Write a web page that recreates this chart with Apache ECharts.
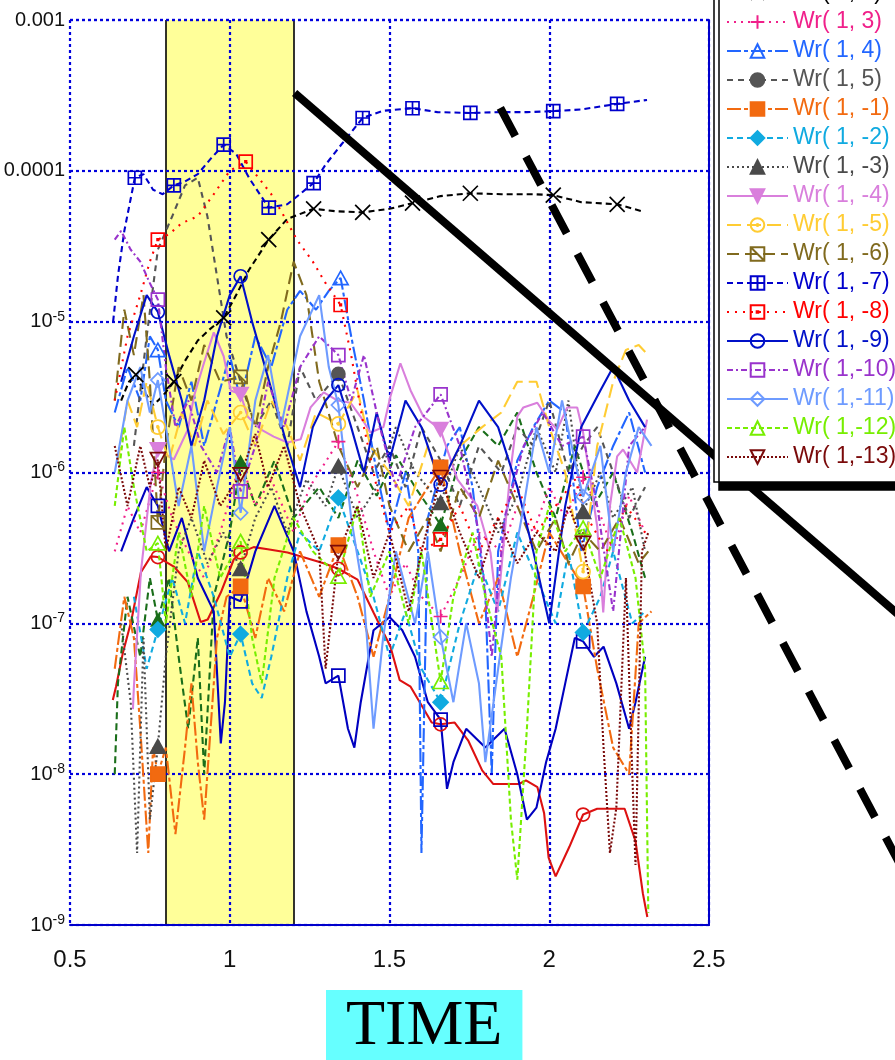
<!DOCTYPE html>
<html><head><meta charset="utf-8">
<script src="https://cdn.jsdelivr.net/npm/echarts@6/dist/echarts.min.js"></script>
<style>html,body{margin:0;padding:0;background:#fff}#c{width:895px;height:1060px}</style>
</head><body><div id="c"></div>
<script>
// ---- axis ticks ----
const xTicks = [0.5, 1, 1.5, 2, 2.5];
const yTickText = ['10|-9', '10|-8', '10|-7', '10|-6', '10|-5', '0.0001', '0.001'];
const bandX = [0.8, 1.2];

// ---- series values [x, y]; marker indices ----
const wr12 = [[0.66,3.0e-6],[0.68,3.8e-6],[0.706,4.45e-6],[0.73,3.5e-6],[0.76,2.8e-6],[0.79,3.2e-6],[0.825,4.0e-6],[0.86,5.5e-6],[0.9,7.5e-6],[0.94,9.0e-6],[0.981,1.06e-5],[1.02,1.5e-5],[1.06,2.2e-5],[1.122,3.5e-5],[1.18,4.8e-5],[1.2625,5.6e-5],[1.33,5.4e-5],[1.416,5.3e-5],[1.5,5.6e-5],[1.572,6.1e-5],[1.66,6.8e-5],[1.753,7.1e-5],[1.85,7.0e-5],[1.95,7.0e-5],[2.0125,6.9e-5],[2.1,6.2e-5],[2.2125,6.0e-5],[2.29,5.4e-5]];
const mk12 = [2,6,10,13,15,17,19,21,24,26];
const wr13 = [[0.64,3e-7],[0.68,6e-7],[0.72,4e-7],[0.775,1.0e-6],[0.82,5e-7],[0.87,3e-7],[0.92,2e-7],[0.97,4e-7],[1.034,1.2e-6],[1.08,6e-7],[1.13,9e-7],[1.2,4e-7],[1.25,8e-7],[1.34,1.6e-6],[1.4,7e-7],[1.45,3e-7],[1.5,1.5e-7],[1.55,2.5e-7],[1.6,1.5e-7],[1.66,1.11e-7],[1.72,2e-7],[1.78,4e-7],[1.85,3e-7],[1.9,6e-7],[1.95,4e-7],[2.0,8e-7],[2.05,5e-7],[2.106,9.3e-7],[2.15,6e-7],[2.2,3e-7],[2.25,7e-7],[2.3,4e-7]];
const mk13 = [3,13,19,27];
const wr14 = [[0.64,2.5e-6],[0.68,5e-6],[0.72,3e-6],[0.75,8e-6],[0.775,6.5e-6],[0.8,3e-6],[0.84,2e-6],[0.88,4e-6],[0.92,1.5e-6],[0.96,3e-6],[1.0,6e-6],[1.034,3e-6],[1.08,8e-6],[1.13,5e-6],[1.18,1.2e-5],[1.22,1.6e-5],[1.27,1.2e-5],[1.31,1.6e-5],[1.347,1.95e-5],[1.38,8e-6],[1.42,3e-6],[1.46,1e-6],[1.5,4e-7],[1.55,1e-6],[1.59,3e-7],[1.6,3e-9],[1.62,5e-7],[1.68,1.5e-6],[1.72,2e-6],[1.76,8e-7],[1.8,1.5e-7],[1.82,1e-8],[1.84,3e-7],[1.9,1.2e-6],[1.95,2e-6],[2.0,3e-6],[2.05,2.5e-6],[2.1,3e-7],[2.15,8e-7],[2.2,1.5e-6],[2.25,2.5e-6],[2.3,1e-6]];
const mk14 = [4,18];
const wr15 = [[0.7,1.5e-6],[0.74,8e-6],[0.775,3e-5],[0.82,5e-5],[0.86,8e-5],[0.9,9e-5],[0.93,5e-5],[0.96,2e-5],[0.99,8e-6],[1.034,4e-6],[1.08,2e-6],[1.13,3e-6],[1.18,1.5e-6],[1.22,5e-6],[1.27,3e-6],[1.34,4.5e-6],[1.4,2e-6],[1.45,1e-6],[1.5,1.5e-6],[1.55,8e-7],[1.6,2e-6],[1.66,1.2e-6],[1.72,6e-7],[1.78,1.5e-6],[1.85,1e-6],[1.9,2e-6],[1.95,1.5e-6],[2.0,3e-6],[2.06,1e-6],[2.106,1.5e-6],[2.15,2e-6],[2.2,1e-6],[2.25,5e-7],[2.3,8e-7]];
const mk15 = [15];
const wr1m1 = [[0.64,5e-8],[0.67,1.5e-7],[0.7,8e-8],[0.72,2e-8],[0.745,3e-9],[0.76,1.5e-8],[0.775,1e-8],[0.8,1.5e-8],[0.83,4e-9],[0.86,1.5e-8],[0.88,4e-8],[0.9,1.2e-8],[0.92,5e-9],[0.94,2e-8],[0.96,8e-8],[0.99,1.5e-7],[1.034,1.76e-7],[1.08,8e-8],[1.12,2e-7],[1.17,1.2e-7],[1.22,3e-7],[1.28,1.5e-7],[1.34,3.3e-7],[1.4,1.5e-7],[1.45,6e-8],[1.5,1.5e-7],[1.56,5e-7],[1.62,8e-7],[1.66,1.08e-6],[1.72,3e-7],[1.78,1e-7],[1.84,2e-7],[1.9,6e-8],[1.95,1.5e-7],[2.0,4e-7],[2.06,2.5e-7],[2.106,1.76e-7],[2.15,5e-8],[2.2,1.5e-8],[2.25,1e-8],[2.28,1e-7],[2.32,1.2e-7]];
const mk1m1 = [6,16,22,28,36];
const wr1m2 = [[0.7,1.5e-7],[0.74,5e-8],[0.775,9.1e-8],[0.82,2e-7],[0.86,1e-7],[0.9,3e-7],[0.95,1.5e-7],[1.0,6e-8],[1.034,8.5e-8],[1.07,4e-8],[1.1,3.2e-8],[1.13,6e-8],[1.18,2e-7],[1.22,4e-7],[1.28,3e-7],[1.34,6.8e-7],[1.4,3e-7],[1.45,1.5e-7],[1.5,6e-8],[1.55,1.2e-7],[1.6,5e-8],[1.66,3e-8],[1.72,1e-7],[1.78,2.5e-7],[1.84,1.2e-7],[1.9,4e-7],[1.96,2e-7],[2.02,1e-7],[2.06,3e-7],[2.106,8.7e-8],[2.16,1.5e-7],[2.2,3e-7],[2.26,1e-7],[2.3,1.2e-7]];
const mk1m2 = [2,8,15,21,29];
const wr1m3 = [[0.66,1e-7],[0.69,3e-8],[0.71,3e-9],[0.73,8e-8],[0.75,5e-9],[0.775,1.53e-8],[0.8,6e-8],[0.84,3e-7],[0.88,5e-7],[0.93,2.5e-7],[0.98,4e-7],[1.034,2.3e-7],[1.08,5e-7],[1.13,8e-7],[1.18,4e-7],[1.24,9e-7],[1.3,6e-7],[1.34,1.1e-6],[1.4,5e-7],[1.46,8e-7],[1.52,2e-6],[1.58,1e-6],[1.66,6.3e-7],[1.72,1.5e-6],[1.78,8e-7],[1.84,4e-7],[1.9,7e-7],[1.96,2e-6],[2.02,1e-6],[2.06,3e-6],[2.106,5.5e-7],[2.16,1e-6],[2.2,5e-7],[2.26,8e-7],[2.3,3e-7]];
const mk1m3 = [5,11,17,22,30];
const wr1m4 = [[0.697,2.7e-8],[0.7,3.8e-8],[0.722,2.2e-7],[0.753,8.6e-7],[0.775,1.42e-6],[0.825,1.22e-6],[0.869,1.93e-6],[0.888,3.2e-6],[0.919,5.3e-6],[0.95,8.5e-6],[0.981,5.9e-6],[1.003,3.5e-6],[1.034,3.3e-6],[1.056,2.35e-6],[1.097,1.93e-6],[1.1375,1.73e-6],[1.181,1.58e-6],[1.222,1.66e-6],[1.253,2.7e-6],[1.294,3.4e-6],[1.3375,3.0e-6],[1.378,2.9e-6],[1.409,2.35e-6],[1.44,1.84e-6],[1.481,2.0e-6],[1.503,3.2e-6],[1.534,5.3e-6],[1.566,3.5e-6],[1.606,2.35e-6],[1.659,1.93e-6],[1.7125,9e-7],[1.775,6e-7],[1.816,2.95e-7],[1.8375,1.18e-7],[1.878,1.0e-6],[1.9,2.35e-6],[1.919,2.7e-6],[1.9625,2.9e-6],[2.003,2.15e-6],[2.025,1.93e-6],[2.056,2.7e-6],[2.0875,2.7e-6],[2.106,1.84e-6],[2.15,4.4e-7],[2.169,1.18e-7],[2.19,6e-7],[2.2125,1.28e-6],[2.231,1.42e-6],[2.275,1.0e-6],[2.306,2.24e-6]];
const mk1m4 = [4,12,29];
const wr1m5 = [[0.65,1.2e-6],[0.68,3e-6],[0.71,2e-6],[0.74,4e-6],[0.775,2.0e-6],[0.81,1.2e-6],[0.85,2.5e-6],[0.89,1.5e-6],[0.93,3e-6],[0.98,1.8e-6],[1.034,2.5e-6],[1.08,1.5e-6],[1.13,3e-6],[1.18,2e-6],[1.22,1.2e-6],[1.27,2.5e-6],[1.34,2.1e-6],[1.4,3.5e-6],[1.44,1.5e-6],[1.5,1e-6],[1.56,6e-7],[1.62,1.5e-6],[1.66,8e-7],[1.72,1.5e-6],[1.79,2e-6],[1.85,2.5e-6],[1.9,4e-6],[1.96,4e-6],[2.0,2e-6],[2.05,1e-6],[2.106,2.2e-7],[2.15,1.5e-6],[2.2,4e-6],[2.24,6.5e-6],[2.28,7e-6],[2.31,6e-6]];
const mk1m5 = [4,10,16,30];
const wr1m6 = [[0.64,3e-6],[0.67,1.2e-5],[0.7,6e-6],[0.73,1.5e-5],[0.75,4e-6],[0.775,4.67e-7],[0.8,1.5e-6],[0.84,5e-6],[0.88,3e-6],[0.92,7e-6],[0.97,4e-6],[1.034,4.3e-6],[1.08,2e-6],[1.12,5e-6],[1.16,1e-5],[1.2,2.5e-5],[1.24,1.5e-5],[1.28,4e-6],[1.34,1.5e-6],[1.4,8e-7],[1.46,1.5e-6],[1.5,6e-7],[1.56,3e-7],[1.62,5e-7],[1.66,3e-7],[1.72,8e-7],[1.78,5e-7],[1.84,1.2e-6],[1.9,6e-7],[1.96,3e-7],[2.02,5e-7],[2.06,2.5e-7],[2.106,4e-7],[2.16,3e-7],[2.22,5e-7],[2.28,2.5e-7],[2.31,3e-7]];
const mk1m6 = [5,11];
const wr1m7 = [[0.635,1.0e-5],[0.65,2.0e-5],[0.67,4.0e-5],[0.703,9.0e-5],[0.73,9.5e-5],[0.76,7.5e-5],[0.79,7.0e-5],[0.825,8.0e-5],[0.86,8.5e-5],[0.9,9.5e-5],[0.94,1.2e-4],[0.981,1.49e-4],[1.02,1.3e-4],[1.06,9.0e-5],[1.122,5.7e-5],[1.18,6.0e-5],[1.2625,8.3e-5],[1.3,1.1e-4],[1.35,1.5e-4],[1.416,2.24e-4],[1.48,2.5e-4],[1.572,2.6e-4],[1.65,2.45e-4],[1.753,2.42e-4],[1.85,2.45e-4],[1.93,2.45e-4],[2.0125,2.49e-4],[2.1,2.55e-4],[2.2125,2.78e-4],[2.306,2.95e-4]];
const mk1m7 = [3,7,11,14,16,19,21,23,26,28];
const wr1m8 = [[0.64,3e-6],[0.68,8e-6],[0.72,1.5e-5],[0.75,2.5e-5],[0.775,3.5e-5],[0.81,3.8e-5],[0.85,4.5e-5],[0.9,5e-5],[0.95,7e-5],[1.0,1e-4],[1.05,1.15e-4],[1.09,9e-5],[1.13,7e-5],[1.17,5e-5],[1.21,3.5e-5],[1.26,2.5e-5],[1.3,1.8e-5],[1.347,1.29e-5],[1.38,6e-6],[1.42,2e-6],[1.46,8e-7],[1.5,4e-7],[1.56,6e-7],[1.6,3e-7],[1.66,3.6e-7],[1.72,6e-7],[1.78,3e-7],[1.84,5e-7],[1.9,8e-7],[1.96,4e-7],[2.02,6e-7],[2.08,9e-7],[2.12,5e-7],[2.18,3e-7],[2.24,6e-7],[2.3,4e-7]];
const mk1m8 = [4,10,17,24];
const wr1m9 = [[0.66,4e-6],[0.7,8e-6],[0.74,1.5e-5],[0.775,1.16e-5],[0.81,6e-6],[0.85,3e-6],[0.88,1.5e-6],[0.92,3e-6],[0.96,8e-6],[1.0,1.5e-5],[1.034,2.0e-5],[1.07,1e-5],[1.1,6e-6],[1.14,3e-6],[1.18,1.5e-6],[1.22,8e-7],[1.26,2e-6],[1.3,3e-6],[1.34,3.8e-6],[1.38,2e-6],[1.42,1e-6],[1.46,2.5e-6],[1.5,1.2e-6],[1.55,3e-6],[1.6,2e-6],[1.66,8.3e-7],[1.72,1.5e-6],[1.78,3e-6],[1.84,2e-6],[1.9,8e-7],[1.95,3e-7],[2.0,1e-7],[2.05,6e-7],[2.1,2e-6],[2.16,3.5e-6],[2.2,5e-6],[2.25,3e-6],[2.3,2e-6]];
const mk1m9 = [3,10,18,25];
const wr1m10 = [[0.64,3.5e-5],[0.66,4e-5],[0.69,3e-5],[0.72,2.5e-5],[0.75,1.8e-5],[0.775,1.4e-5],[0.8,5e-6],[0.83,2e-6],[0.87,3e-6],[0.91,1.5e-6],[0.96,1e-6],[1.0,2e-6],[1.034,7.5e-7],[1.08,1.5e-6],[1.12,4e-6],[1.17,2e-6],[1.22,5e-6],[1.28,8e-6],[1.34,6e-6],[1.38,3e-6],[1.42,6e-6],[1.47,2e-6],[1.52,8e-7],[1.58,2e-6],[1.66,3.3e-6],[1.72,1.5e-6],[1.78,4e-7],[1.82,6e-8],[1.86,5e-7],[1.92,1.5e-6],[1.98,2.5e-6],[2.04,1.5e-6],[2.106,1.73e-6],[2.15,6e-7],[2.2,1.2e-7],[2.25,1.5e-6],[2.3,2e-6]];
const mk1m10 = [5,12,18,24,32];
const wr1m11 = [[0.64,1e-6],[0.68,3e-6],[0.72,5e-6],[0.75,2.5e-6],[0.775,4.1e-6],[0.8,2e-6],[0.84,6e-7],[0.88,1.5e-6],[0.92,3e-7],[0.96,8e-7],[1.0,2e-6],[1.034,5.4e-7],[1.08,3e-6],[1.12,6e-6],[1.16,2e-6],[1.22,8e-6],[1.28,1.5e-5],[1.31,5e-6],[1.34,2.8e-6],[1.38,5e-7],[1.42,1.5e-7],[1.45,2e-8],[1.48,8e-8],[1.52,3e-7],[1.58,1e-7],[1.62,3e-7],[1.66,8.1e-8],[1.7,3e-8],[1.74,1e-7],[1.78,4e-8],[1.8,1.2e-8],[1.84,5e-8],[1.88,2e-7],[1.92,6e-7],[1.96,2e-6],[2.0,1e-6],[2.04,3e-6],[2.08,1.2e-6],[2.106,6.9e-7],[2.16,1.5e-6],[2.2,3e-7],[2.24,1e-6],[2.28,2e-6],[2.32,1.5e-6]];
const mk1m11 = [4,11,18,26,38];
const wr1m12 = [[0.64,6e-7],[0.67,2e-6],[0.7,8e-7],[0.74,3e-7],[0.775,3.4e-7],[0.8,1e-7],[0.84,4e-7],[0.88,1.5e-7],[0.92,6e-7],[0.97,2e-7],[1.034,3.5e-7],[1.07,8e-8],[1.1,4e-8],[1.14,2e-7],[1.2,5e-7],[1.26,3e-7],[1.34,2.05e-7],[1.4,6e-7],[1.44,1.5e-7],[1.5,3e-7],[1.56,1e-7],[1.6,3e-7],[1.66,4.1e-8],[1.7,1.5e-7],[1.76,4e-7],[1.8,1.5e-7],[1.85,6e-8],[1.88,5e-9],[1.9,2e-9],[1.93,2e-8],[1.96,3e-7],[2.0,6e-7],[2.05,3e-7],[2.106,4.3e-7],[2.16,2e-7],[2.22,5e-7],[2.27,2e-7],[2.3,5e-8],[2.31,1.2e-9]];
const mk1m12 = [4,10,16,22,33];
const wr1m13 = [[0.64,1.5e-6],[0.68,6e-7],[0.72,1.5e-6],[0.75,8e-7],[0.775,1.22e-6],[0.8,3e-7],[0.84,8e-7],[0.88,5e-7],[0.92,1.2e-6],[0.97,6e-7],[1.034,9.7e-7],[1.08,1.8e-6],[1.12,8e-7],[1.17,1.5e-6],[1.22,6e-7],[1.28,3e-7],[1.3,5e-8],[1.34,2.95e-7],[1.4,6e-7],[1.45,2e-7],[1.5,4e-7],[1.56,1.2e-7],[1.6,3e-7],[1.66,9.3e-7],[1.72,4e-7],[1.78,2e-7],[1.84,5e-7],[1.9,2.5e-7],[1.96,4e-7],[2.02,3e-7],[2.06,6e-7],[2.106,3.4e-7],[2.15,1e-7],[2.17,1.5e-8],[2.19,3e-9],[2.21,6e-9],[2.24,2e-7],[2.26,1e-8],[2.27,2.5e-9],[2.29,3e-7],[2.31,4e-7]];
const mk1m13 = [4,10,17,23,31];
// series whose legend rows lie above the picture
const wr11 = [[0.634,3.1e-8],[0.644,3.8e-8],[0.665,6.3e-8],[0.691,1.02e-7],[0.722,2.18e-7],[0.753,2.78e-7],[0.775,2.75e-7],[0.825,2.38e-7],[0.869,1.87e-7],[0.909,1.02e-7],[0.931,1.06e-7],[0.972,1.6e-7],[1.0125,2.65e-7],[1.034,2.95e-7],[1.075,3.2e-7],[1.119,3.1e-7],[1.181,2.95e-7],[1.294,2.5e-7],[1.34,2.3e-7],[1.4,1.95e-7],[1.45,1.18e-7],[1.503,7.0e-8],[1.532,4.2e-8],[1.566,3.8e-8],[1.632,2.2e-8],[1.66,2.14e-8],[1.704,2.2e-8],[1.747,1.66e-8],[1.79,1.06e-8],[1.825,8.6e-9],[1.905,8.6e-9],[1.927,9.1e-9],[1.963,8.2e-9],[1.984,5.5e-9],[1.998,2.8e-9],[2.02,2.1e-9],[2.063,3.3e-9],[2.106,5.4e-9],[2.15,5.9e-9],[2.236,5.9e-9],[2.27,3.6e-9],[2.293,1.62e-9],[2.307,1.13e-9]];
const mk11 = [6,13,18,25,37];
const wr10 = [[0.64,1e-8],[0.65,4e-8],[0.68,1.5e-7],[0.72,6e-8],[0.75,2e-7],[0.775,1.05e-7],[0.81,2e-7],[0.84,6e-8],[0.87,2e-8],[0.9,8e-8],[0.92,1e-8],[0.95,1.5e-7],[1.0,4e-7],[1.034,1.17e-6],[1.08,6e-7],[1.14,1.2e-6],[1.2,5e-7],[1.28,8e-7],[1.34,5e-7],[1.4,1.2e-6],[1.46,7e-7],[1.52,1.3e-6],[1.58,8e-7],[1.66,4.5e-7],[1.72,1.2e-6],[1.78,2e-6],[1.84,1.5e-6],[1.9,2.5e-6],[1.96,1e-6],[2.02,5e-7],[2.08,1.5e-6],[2.14,6e-7],[2.2,1e-6],[2.26,4e-7],[2.3,2e-7]];
const mk10 = [5,13,23];
const wr01 = [[0.66,3e-7],[0.7,5e-7],[0.74,8e-7],[0.775,6e-7],[0.81,3e-7],[0.85,5e-7],[0.9,2e-7],[0.95,1.2e-7],[0.972,1.6e-8],[0.985,3e-8],[1.0,1.5e-7],[1.034,1.4e-7],[1.08,3e-7],[1.14,6e-7],[1.2,3e-7],[1.24,1.2e-7],[1.28,6e-8],[1.3,4e-8],[1.34,4.5e-8],[1.37,2e-8],[1.39,1.5e-8],[1.41,3e-8],[1.45,9e-8],[1.5,1.1e-7],[1.54,9e-8],[1.58,6e-8],[1.62,3e-8],[1.66,2.3e-8],[1.68,8e-9],[1.7,1.2e-8],[1.74,2e-8],[1.8,1.5e-8],[1.86,2e-8],[1.9,1e-8],[1.93,5e-9],[1.96,6e-9],[1.99,1.2e-8],[2.02,2e-8],[2.05,4e-8],[2.08,8e-8],[2.106,7.6e-8],[2.14,6e-8],[2.17,7e-8],[2.21,4e-8],[2.25,2e-8],[2.27,3e-8],[2.3,6e-8]];
const mk01 = [3,11,18,27,40];
// reference lines (drawn on an extended copy of the same scales)
const solidRef = [[1.2031,3.285e-4],[3.2,7.28e-8]];
const dashRef = [[1.8469,2.613e-4],[3.2,9.8e-10]];
const extX = [0.5, 3.2];
const extY = [1e-10, 1e-3];

// ---- styling ----
const LAB = "'Liberation Sans',Arial,sans-serif";
const SYM = {
  x: 'path://M0,0L10,10M10,0L0,10',
  plus: 'path://M5,0V10M0,5H10',
  tri: 'path://M5,0L10,9L0,9Z',
  tridown: 'path://M0,0H10L5,9Z',
  circ: 'path://M10,5A5,5,0,1,1,0,5A5,5,0,1,1,10,5Z',
  sq: 'path://M0,0H10V10H0Z',
  diam: 'path://M5,0L10,5L5,10L0,5Z',
  sqplus: 'path://M0,0H10V10H0ZM5,0V10M0,5H10',
  sqdot: 'path://M0,0H10V10H0ZM4.4,4.4H5.6V5.6H4.4Z',
  sqx: 'path://M0,0H10V10H0ZM0,0L10,10',
  circdot: 'path://M10,5A5,5,0,1,1,0,5A5,5,0,1,1,10,5ZM5.7,5A0.7,0.7,0,1,1,4.3,5A0.7,0.7,0,1,1,5.7,5Z'
};
const cfgs = [
  {name:'Wr( 1, 1)', data:wr11, mk:mk11, color:'#dd1111', dash:'solid', sym:SYM.circ, fill:false, size:13, legend:false},
  {name:'Wr( 1, 0)', data:wr10, mk:mk10, color:'#1a6e1a', dash:[7,4], sym:SYM.tri, fill:true, size:13, legend:false},
  {name:'Wr( 0, 1)', data:wr01, mk:mk01, color:'#0000c0', dash:'solid', sym:SYM.sq, fill:false, size:13, legend:false},
  {name:'Wr( 1, 2)', data:wr12, mk:mk12, color:'#000000', dash:[6,4], sym:SYM.x, fill:false, size:15},
  {name:'Wr( 1, 3)', data:wr13, mk:mk13, color:'#f0208a', dash:[2,5], sym:SYM.plus, fill:false, size:14},
  {name:'Wr( 1, 4)', data:wr14, mk:mk14, color:'#2266ff', dash:[14,3,4,3], sym:SYM.tri, fill:false, size:15},
  {name:'Wr( 1, 5)', data:wr15, mk:mk15, color:'#555555', dash:[6,5], sym:SYM.circ, fill:true, size:13},
  {name:'Wr( 1, -1)', data:wr1m1, mk:mk1m1, color:'#f26a10', dash:[14,3,4,3], sym:SYM.sq, fill:true, size:14},
  {name:'Wr( 1, -2)', data:wr1m2, mk:mk1m2, color:'#10aae0', dash:[6,4], sym:SYM.diam, fill:true, size:15},
  {name:'Wr( 1, -3)', data:wr1m3, mk:mk1m3, color:'#4a4a4a', dash:[2,3], sym:SYM.tri, fill:true, size:15},
  {name:'Wr( 1, -4)', data:wr1m4, mk:mk1m4, color:'#d97fdc', dash:'solid', sym:SYM.tridown, fill:true, size:15},
  {name:'Wr( 1, -5)', data:wr1m5, mk:mk1m5, color:'#ffcc33', dash:[14,6], sym:SYM.circdot, fill:false, size:14},
  {name:'Wr( 1, -6)', data:wr1m6, mk:mk1m6, color:'#806a1e', dash:[12,6], sym:SYM.sqx, fill:false, size:13},
  {name:'Wr( 1, -7)', data:wr1m7, mk:mk1m7, color:'#0000cc', dash:[6,4], sym:SYM.sqplus, fill:false, size:13},
  {name:'Wr( 1, -8)', data:wr1m8, mk:mk1m8, color:'#ff0000', dash:[2,6], sym:SYM.sqdot, fill:false, size:13},
  {name:'Wr( 1, -9)', data:wr1m9, mk:mk1m9, color:'#0010c8', dash:'solid', sym:SYM.circ, fill:false, size:13},
  {name:'Wr( 1,-10)', data:wr1m10, mk:mk1m10, color:'#9933cc', dash:[6,3,2,3], sym:SYM.sq, fill:false, size:13},
  {name:'Wr( 1,-11)', data:wr1m11, mk:mk1m11, color:'#6e9bff', dash:'solid', sym:SYM.diam, fill:false, size:14},
  {name:'Wr( 1,-12)', data:wr1m12, mk:mk1m12, color:'#77ee00', dash:[5,3], sym:SYM.tri, fill:false, size:15},
  {name:'Wr( 1,-13)', data:wr1m13, mk:mk1m13, color:'#7a0a0a', dash:[2,2], sym:SYM.tridown, fill:false, size:15}
];

const series = cfgs.map(c => ({
  type:'line', name:c.name,
  data:c.data.map((p,i) => c.mk.includes(i) ? {value:p} : {value:p, symbol:'none'}),
  symbol:c.sym, symbolSize:c.size, symbolKeepAspect:true, showAllSymbol:true,
  lineStyle:{color:c.color, width:2.1, type:c.dash},
  itemStyle:{color:c.fill ? c.color : 'none', borderColor:c.color, borderWidth:1.7},
  emphasis:{disabled:true}, silent:true, z:2
}));
// yellow band
series.unshift({
  type:'line', name:'band', data:[], silent:true, z:1,
  markArea:{silent:true, z:1, itemStyle:{color:'#ffff99'}, data:[[{xAxis:bandX[0]},{xAxis:bandX[1]}]]},
  markLine:{silent:true, symbol:'none', z:1, label:{show:false},
    lineStyle:{color:'#000', width:1.6, type:'solid'},
    data:[{xAxis:bandX[0]},{xAxis:bandX[1]}]}
});
series.push({type:'line', name:'refSolid', data:solidRef, xAxisIndex:1, yAxisIndex:2, symbol:'none', silent:true, z:6,
  lineStyle:{color:'#000', width:8, type:'solid'}});
series.push({type:'line', name:'refDash', data:dashRef, xAxisIndex:1, yAxisIndex:2, symbol:'none', silent:true, z:6,
  lineStyle:{color:'#000', width:8, type:[32,23]}});

// same pixel scale as the main grid, extended to the right and downward
const gW = 639, gH = 905;
const ext2W = gW * (extX[1] - extX[0]) / (xTicks[xTicks.length-1] - xTicks[0]);
const ext2H = gH * (Math.log10(extY[1]) - Math.log10(extY[0])) / 6;

const chart = echarts.init(document.getElementById('c'), null, {renderer:'canvas'});
chart.setOption({
  animation:false,
  backgroundColor:'#fff',
  title:{text:'TIME', left:326, top:990, padding:[4,20,10,20], backgroundColor:'#66ffff',
    textStyle:{fontFamily:"'Liberation Serif','Times New Roman',serif", fontSize:64, fontWeight:'normal', color:'#000', lineHeight:66}},
  grid:[{left:70, top:20, width:gW, height:gH, containLabel:false, outerBoundsMode:'none'},
        {left:70, top:20, width:ext2W, height:ext2H, containLabel:false, outerBoundsMode:'none'}],
  legend:{
    orient:'vertical', left:714, top:-29, z:10, selectedMode:false,
    padding:[10,40,13,12], itemWidth:61, itemHeight:17, itemGap:5,
    backgroundColor:'#fff', borderColor:'#000', borderWidth:1.5,
    shadowColor:'#000', shadowBlur:0, shadowOffsetX:5, shadowOffsetY:8,
    textStyle:{fontFamily:LAB, fontSize:23, lineHeight:24},
    data:cfgs.filter(c => c.legend !== false).map(c => ({name:c.name, textStyle:{color:c.color}}))
  },
  xAxis:[{type:'value', gridIndex:0, min:xTicks[0], max:xTicks[xTicks.length-1], interval:0.5, z:1.5,
    axisLine:{show:true, onZero:false, lineStyle:{color:'#0000cc', width:2}},
    axisTick:{show:false},
    axisLabel:{margin:23, color:'#111', fontFamily:LAB, fontSize:24},
    splitLine:{show:true, lineStyle:{color:'#0000dd', width:2.2, type:[3,3]}}},
   {type:'value', gridIndex:1, min:extX[0], max:extX[1], show:false}],
  yAxis:[{type:'log', gridIndex:0, logBase:10, min:1e-9, max:1e-3, z:1.5,
    axisLine:{show:false}, axisTick:{show:false},
    axisLabel:{margin:5, color:'#111', fontFamily:LAB, fontSize:20,
      formatter:v => { const t = yTickText[Math.round(Math.log10(v)) + 9]; if (!t) return '';
        if (t.indexOf('|') < 0) return '{b|' + t + '}'; const p = t.split('|'); return '{b|' + p[0] + '}{s|' + p[1] + '}'; },
      rich:{b:{fontFamily:LAB, fontSize:20, lineHeight:24, color:'#111'},
            s:{fontFamily:LAB, fontSize:14, lineHeight:14, verticalAlign:'top', color:'#111'}}},
    splitLine:{show:true, lineStyle:{color:'#0000dd', width:2.2, type:[3,3]}}},
   {type:'log', gridIndex:0, logBase:10, min:1e-9, max:1e-3, position:'right', z:1.5,
    axisLine:{show:true, lineStyle:{color:'#0000cc', width:2}}, axisTick:{show:false}, axisLabel:{show:false}, splitLine:{show:false}},
   {type:'log', gridIndex:1, logBase:10, min:extY[0], max:extY[1], show:false}],
  series:series
});
</script></body></html>
